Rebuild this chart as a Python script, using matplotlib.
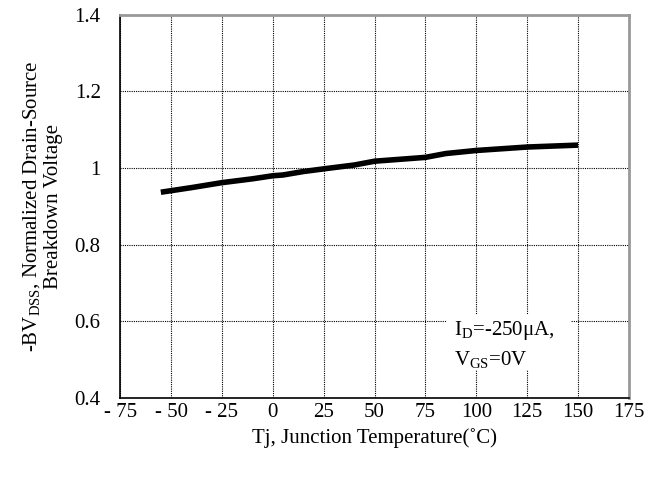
import matplotlib
matplotlib.use("Agg")
from matplotlib import pyplot as plt
from matplotlib.patches import Rectangle

# data
temperature = [-55, -40, -25, -10, 0, 5, 15, 25, 40, 50, 65, 75, 85, 100, 125, 150]
bv_normalized = [0.937, 0.949, 0.962, 0.972, 0.980, 0.982, 0.991, 0.998, 1.008, 1.018, 1.024,
                 1.028, 1.038, 1.046, 1.055, 1.060]

x_ticks = [-75, -50, -25, 0, 25, 50, 75, 100, 125, 150, 175]
x_tick_labels = ['- 75', '- 50', '- 25', '0', '25', '50', '75', '100', '125', '150', '175']
y_ticks = [0.4, 0.6, 0.8, 1.0, 1.2, 1.4]
y_tick_labels = ['0.4', '0.6', '0.8', '1', '1.2', '1.4']

plt.rcParams['font.family'] = ['Liberation Serif', 'DejaVu Serif']
plt.rcParams['mathtext.fontset'] = 'custom'
plt.rcParams['mathtext.rm'] = 'Liberation Serif'

fig = plt.figure(figsize=(6.6, 4.8), dpi=100)
ax = fig.add_axes([0.182, 0.171, 0.771, 0.798])

ax.plot(temperature, bv_normalized, color='black', linewidth=4, solid_capstyle='butt', zorder=3)

ax.set_xlim(-75, 175)
ax.set_ylim(0.4, 1.4)
ax.set_xticks(x_ticks)
ax.set_xticklabels(x_tick_labels)
ax.set_yticks(y_ticks)
ax.set_yticklabels(y_tick_labels)
ax.tick_params(length=0, labelsize=15)
ax.tick_params(axis='x', pad=4)
ax.tick_params(axis='y', pad=14)
ax.grid(True, linestyle=(0, (1, 1)), color='black', linewidth=0.8)

for side in ['left', 'bottom']:
    ax.spines[side].set_color('black')
    ax.spines[side].set_linewidth(1.2)
for side in ['top', 'right']:
    ax.spines[side].set_color('#999999')
    ax.spines[side].set_linewidth(2)

ax.set_xlabel('Tj, Junction Temperature(˚C)', fontsize=15, labelpad=4)
ax.set_ylabel('-BV$_\\mathregular{DSS}$, Normalized Drain-Source\nBreakdown Voltage', fontsize=15,
              labelpad=8, linespacing=1.1)

# white patch behind the condition note, hiding the grid there
ax.add_patch(Rectangle((0.642, 0.073), 0.244, 0.144, transform=ax.transAxes,
                       facecolor='white', edgecolor='none', zorder=2.5))
ax.text(89, 0.538, 'I$_\\mathregular{D}$=-250μA,\nV$_\\mathregular{GS}$=0V', fontsize=15,
        ha='left', va='center', linespacing=1.5, zorder=4)

fig.savefig('out.png', dpi=100)
